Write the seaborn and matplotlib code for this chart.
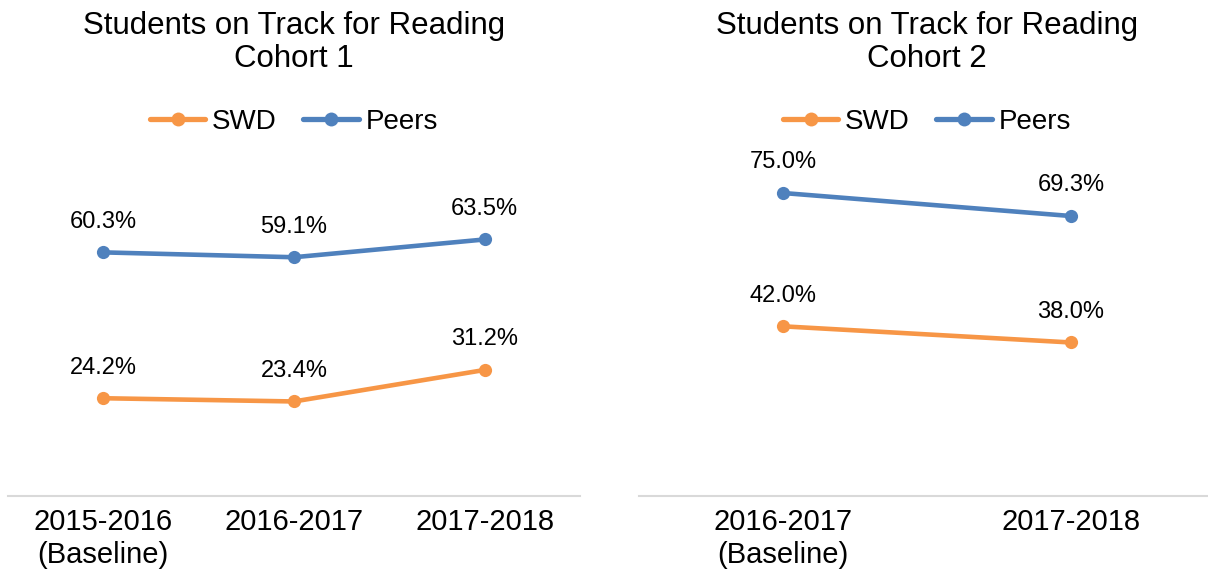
import numpy as np
import pandas as pd
import matplotlib
matplotlib.use("Agg")
import matplotlib.pyplot as plt
import seaborn as sns

# --- Data ---
cohort1_years = ["2015-2016\n(Baseline)", "2016-2017", "2017-2018"]
cohort1_swd = [24.2, 23.4, 31.2]
cohort1_peers = [60.3, 59.1, 63.5]

cohort2_years = ["2016-2017\n(Baseline)", "2017-2018"]
cohort2_swd = [42.0, 38.0]
cohort2_peers = [75.0, 69.3]

groups = ["SWD", "Peers"]
colors = {"SWD": "#F79646", "Peers": "#4F81BD"}

# --- Style ---
sns.set_theme(style="white")
plt.rcParams["font.family"] = ["Liberation Sans", "DejaVu Sans"]


def make_df(years, swd, peers):
    return pd.DataFrame({
        "Year": years * 2,
        "Group": ["SWD"] * len(years) + ["Peers"] * len(years),
        "Value": list(swd) + list(peers),
    })


fig = plt.figure(figsize=(12.08, 5.8), dpi=100)
W, H = 1208, 580
top_px, base_px = 92, 496
ax1 = fig.add_axes([8 / W, (H - base_px) / H, 572 / W, (base_px - top_px) / H])
ax2 = fig.add_axes([639 / W, (H - base_px) / H, 576 / W, (base_px - top_px) / H])

panels = [
    (ax1, make_df(cohort1_years, cohort1_swd, cohort1_peers), "Students on Track for Reading\nCohort 1"),
    (ax2, make_df(cohort2_years, cohort2_swd, cohort2_peers), "Students on Track for Reading\nCohort 2"),
]

for ax, df, title in panels:
    n = df["Year"].nunique()
    sns.lineplot(data=df, x="Year", y="Value", hue="Group", hue_order=groups,
                 palette=colors, marker="o", markersize=9.5, markeredgewidth=0,
                 linewidth=3.3, ax=ax, sort=False)

    # data labels
    for _, row in df.iterrows():
        ax.annotate(f"{row['Value']:.1f}%", (row["Year"], row["Value"]),
                    xytext=(0, 22), textcoords="offset points",
                    ha="center", va="center", fontsize=17, color="black")

    ax.set_xlim(-0.5, n - 0.5)
    ax.set_ylim(0, 100)
    ax.set_xlabel("")
    ax.set_ylabel("")
    ax.set_yticks([])
    ax.tick_params(axis="x", length=0, pad=9, labelsize=21, colors="black")
    for lbl in ax.get_xticklabels():
        lbl.set_linespacing(1.2)
    for side in ["top", "left", "right"]:
        ax.spines[side].set_visible(False)
    ax.spines["bottom"].set_color("#D9D9D9")
    ax.spines["bottom"].set_linewidth(1.5)

    ax.text(0.5, 1.1225, title, transform=ax.transAxes, ha="center", va="center",
            fontsize=22.5, linespacing=1.15, color="black")

    sns.move_legend(ax, "center", bbox_to_anchor=(0.5, 0.926), ncol=2,
                    frameon=False, title=None, fontsize=20, handlelength=2.0,
                    handletextpad=0.25, columnspacing=0.95, labelcolor="black")
    for h in ax.get_legend().legend_handles:
        h.set_linewidth(3.8)
        h.set_markersize(10)

fig.savefig("out.png", dpi=100)
